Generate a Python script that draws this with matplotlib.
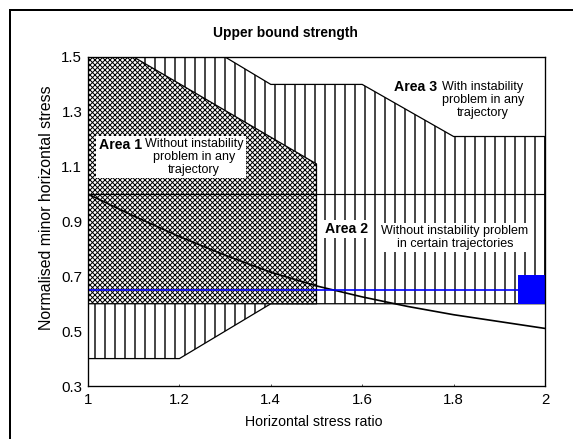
import matplotlib.pyplot as plt
from matplotlib.patches import Rectangle
from matplotlib.offsetbox import TextArea, HPacker, AnnotationBbox

plt.rcParams['font.family'] = ['Liberation Sans', 'DejaVu Sans']
plt.rcParams['hatch.linewidth'] = 1.7

# upper bound strength envelope (top of the hatched zone)
ratio_upper = [1.0, 1.3, 1.4, 1.6, 1.8, 2.0]
stress_upper = [1.5, 1.5, 1.4, 1.4, 1.21, 1.21]
# lower edge of the hatched zone
ratio_lower = [1.0, 1.2, 1.4, 2.0]
stress_lower = [0.4, 0.4, 0.6, 0.6]
# area 1 (cross hatched)
ratio_area1 = [1.0, 1.1, 1.5]
stress_area1_top = [1.5, 1.5, 1.11]
stress_area1_bottom = 0.6
# limit line and decreasing curve
stress_limit = 1.0
ratio_curve = [1.0, 1.1, 1.2, 1.3, 1.4, 1.5, 1.6, 1.7, 1.8, 1.9, 2.0]
stress_curve = [1.0, 0.92, 0.845, 0.777, 0.715, 0.665, 0.625, 0.59, 0.56, 0.535, 0.51]
# blue level and blue box
blue_level = 0.65
blue_box_ratio = [1.94, 2.0]
blue_box_stress = [0.6, 0.705]

xticks = [1, 1.2, 1.4, 1.6, 1.8, 2]
xtick_labels = ['1', '1.2', '1.4', '1.6', '1.8', '2']
yticks = [0.3, 0.5, 0.7, 0.9, 1.1, 1.3, 1.5]
ytick_labels = ['0.3', '0.5', '0.7', '0.9', '1.1', '1.3', '1.5']

W, H, DPI = 573, 439, 60
fig = plt.figure(figsize=(W / DPI, H / DPI), dpi=DPI)
ax = fig.add_axes([88 / W, 1 - 386 / H, 457 / W, 329 / H])

# hatched zone (areas 2 and 3 below the bound)
ax.fill(ratio_lower + ratio_upper[::-1], stress_lower + stress_upper[::-1],
        facecolor='white', edgecolor='black', hatch='|', lw=1.5, zorder=1)
# area 1
a1 = ax.fill_between(ratio_area1, stress_area1_bottom, stress_area1_top,
                     facecolor='white', edgecolor='black', hatch='xxxx', lw=1.5, zorder=2)
if hasattr(a1, 'set_hatch_linewidth'):
    a1.set_hatch_linewidth(1.2)

ax.axhline(stress_limit, color='black', lw=1.4, zorder=3)
ax.plot(ratio_curve, stress_curve, color='black', lw=2, zorder=4)
ax.hlines(blue_level, xticks[0], blue_box_ratio[0], color='blue', lw=2, zorder=5)
ax.fill_between(blue_box_ratio, blue_box_stress[0], blue_box_stress[1],
                color='blue', lw=0, zorder=5)

ax.set_xlim(1, 2)
ax.set_ylim(0.3, 1.5)
ax.set_xticks(xticks, xtick_labels, fontsize=18)
ax.set_yticks(yticks, ytick_labels, fontsize=18)
ax.tick_params(axis='x', direction='in', length=3, pad=9)
ax.tick_params(axis='y', length=0, pad=7)
for s in ax.spines.values():
    s.set_linewidth(1.6)
    s.set_zorder(6)

# area labels
desc_font = dict(fontsize=15, linespacing=1.08)
box1 = HPacker(children=[TextArea('Area 1', textprops=dict(fontsize=17, fontweight='bold')),
                         TextArea('Without instability\nproblem in any\ntrajectory',
                                  textprops=dict(multialignment='center', **desc_font))],
               align='top', pad=0, sep=3)
ab = AnnotationBbox(box1, (1.024, 1.204), box_alignment=(0, 1), pad=0.15,
                    bboxprops=dict(facecolor='white', edgecolor='none', boxstyle='square'),
                    zorder=7)
ax.add_artist(ab)

ax.text(1.565, 0.872, 'Area 2', fontsize=17, fontweight='bold', ha='center', va='center',
        bbox=dict(facecolor='white', edgecolor='none', boxstyle='square,pad=0.15'), zorder=7)
ax.text(1.803, 0.841, 'Without instability problem\nin certain trajectories',
        ha='center', va='center', multialignment='center',
        bbox=dict(facecolor='white', edgecolor='none', boxstyle='square,pad=0.15'), zorder=7,
        **desc_font)

ax.text(1.716, 1.39, 'Area 3', fontsize=17, fontweight='bold', ha='center', va='center', zorder=7)
ax.text(1.864, 1.343, 'With instability\nproblem in any\ntrajectory', ha='center', va='center',
        multialignment='center', zorder=7, **desc_font)

fig.text(285 / W, 1 - 33 / H, 'Upper bound strength', ha='center', va='center',
         fontsize=16.5, fontweight='bold')
fig.text(314 / W, 1 - 422 / H, 'Horizontal stress ratio', ha='center', va='center', fontsize=17)
fig.text(47 / W, 1 - 208 / H, 'Normalised minor horizontal stress', ha='center', va='center',
         rotation=90, fontsize=19)

# outer frame of the figure
fig.add_artist(Rectangle((10 / W, -0.1), 1.2, 1 - 10 / H + 0.1, fill=False,
                         edgecolor='black', lw=2.4, transform=fig.transFigure))

fig.savefig('out.png', dpi=DPI)
